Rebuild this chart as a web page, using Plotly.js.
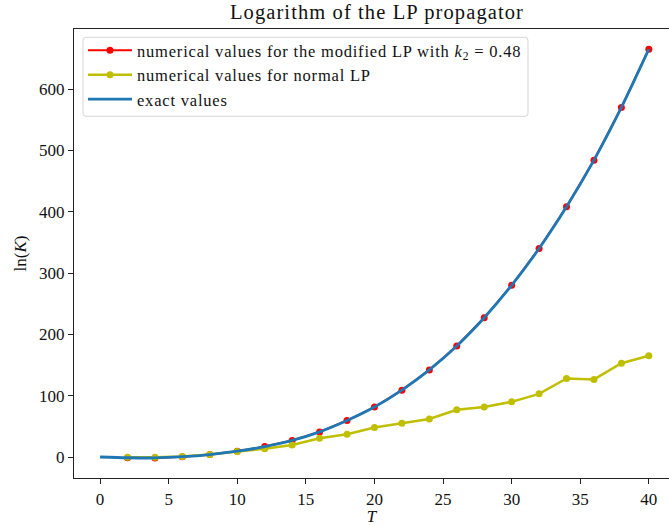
<!DOCTYPE html>
<html>
<head>
<meta charset="utf-8">
<script src="https://cdn.plot.ly/plotly-3.0.1.min.js"></script>
<style>
  html, body { margin: 0; padding: 0; background: #fff; }
  #chart { width: 669px; height: 526px; }
  /* wider set to suit the serif text of the figure */
  #chart .legendtext { letter-spacing: 0.8px; }
  #chart .gtitle { letter-spacing: 1.1px; }
  /* let the widened legend text run past plotly's measured box */
  #chart .legend .scrollbox, #chart .legend { clip-path: none !important; }
</style>
</head>
<body>
<div id="chart"></div>
<script>
// Propagation time T and ln(K) from the three computations
const tNumeric = [2, 4, 6, 8, 10, 12, 14, 16, 18, 20, 22, 24, 26, 28, 30, 32, 34, 36, 38, 40];
const lnKModified = [-1.2, -1.5, 0.5, 4, 9.5, 17, 27, 41, 59.5, 81.5, 109, 142, 181, 227, 280, 340, 408, 484, 570, 665];
const lnKNormal = [-0.5, -0.5, 1, 4, 9, 13.5, 19.5, 30.5, 37, 48, 55, 62, 77, 81.5, 90, 103, 128, 126.5, 153, 165];
const tExact = [0, 2, 4, 6, 8, 10, 12, 14, 16, 18, 20, 22, 24, 26, 28, 30, 32, 34, 36, 38, 40];
const lnKExact = [0, -1.2, -1.5, 0.5, 4, 9.5, 17, 27, 41, 59.5, 81.5, 109, 142, 181, 227, 280, 340, 408, 484, 570, 665];

const xTicks = [0, 5, 10, 15, 20, 25, 30, 35, 40];
const yTicks = [0, 100, 200, 300, 400, 500, 600];

const serif = 'Liberation Serif, DejaVu Serif, serif';

const traces = [
  {
    x: tNumeric, y: lnKModified, type: 'scatter', mode: 'lines+markers',
    name: 'numerical values for the modified LP with <i>k</i><sub>2</sub> = 0.48',
    line: { color: '#ff0000', width: 2 },
    marker: { color: '#ff0000', size: 7 }
  },
  {
    x: tNumeric, y: lnKNormal, type: 'scatter', mode: 'lines+markers',
    name: 'numerical values for normal LP',
    line: { color: '#bfbf00', width: 2.5 },
    marker: { color: '#bfbf00', size: 7 }
  },
  {
    x: tExact, y: lnKExact, type: 'scatter', mode: 'lines',
    name: 'exact values',
    line: { color: '#1f77b4', width: 2.8, shape: 'spline', smoothing: 0.8 }
  }
];

// Legend frame with slightly rounded corners (paper coordinates)
const fx0 = 0.0151, fx1 = 0.7630, fy0 = 0.8056, fy1 = 0.9815;
const rx = 0.005, ry = 0.0067;
const framePath =
  `M${fx0 + rx},${fy1} L${fx1 - rx},${fy1} Q${fx1},${fy1} ${fx1},${fy1 - ry} ` +
  `L${fx1},${fy0 + ry} Q${fx1},${fy0} ${fx1 - rx},${fy0} ` +
  `L${fx0 + rx},${fy0} Q${fx0},${fy0} ${fx0},${fy0 + ry} ` +
  `L${fx0},${fy1 - ry} Q${fx0},${fy1} ${fx0 + rx},${fy1} Z`;

const layout = {
  width: 669, height: 526,
  margin: { l: 74, r: 0, t: 29, b: 48 },
  paper_bgcolor: '#ffffff', plot_bgcolor: '#ffffff',
  font: { family: serif, size: 16, color: '#111' },
  showlegend: true,
  title: {
    text: 'Logarithm of the LP propagator',
    font: { family: serif, size: 20.5, color: '#111' },
    x: 0.5635, xanchor: 'center', xref: 'container',
    y: 0.977, yanchor: 'middle', yref: 'container'
  },
  xaxis: {
    range: [-1.9, 41.47],
    tickvals: xTicks,
    ticktext: xTicks.map(String),
    ticks: 'outside', ticklen: 5, tickwidth: 1, tickcolor: '#222',
    showline: true, linecolor: '#222', linewidth: 1.2, mirror: true,
    showgrid: false, zeroline: false,
    tickfont: { family: serif, size: 17, color: '#111' },
    title: { text: '<i>T</i>', font: { family: serif, size: 17, color: '#111' }, standoff: 6 }
  },
  yaxis: {
    range: [-34.2, 697.9],
    tickvals: yTicks,
    ticktext: yTicks.map(String),
    ticks: 'outside', ticklen: 5, tickwidth: 1, tickcolor: '#222',
    showline: true, linecolor: '#222', linewidth: 1.2, mirror: false,
    showgrid: false, zeroline: false,
    tickfont: { family: serif, size: 17, color: '#111' },
    title: { text: 'ln(<i>K</i>)', font: { family: serif, size: 17, color: '#111' }, standoff: 8 }
  },
  shapes: [{
    type: 'path', xref: 'paper', yref: 'paper', layer: 'above',
    path: framePath,
    fillcolor: 'rgba(255,255,255,0.8)',
    line: { color: '#d6d6d6', width: 1 }
  }],
  legend: {
    x: 0.0151, y: 0.991, xanchor: 'left', yanchor: 'top',
    bgcolor: 'rgba(0,0,0,0)', borderwidth: 0,
    font: { family: serif, size: 16.5, color: '#111' },
    itemwidth: 44, tracegroupgap: 0
  }
};

Plotly.newPlot('chart', traces, layout, { displayModeBar: false, staticPlot: true });
</script>
</body>
</html>
